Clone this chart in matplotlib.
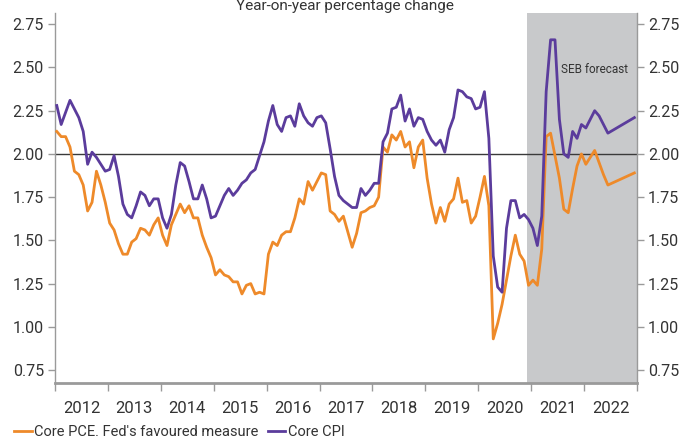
import matplotlib
matplotlib.use("Agg")
import matplotlib.pyplot as plt

plt.rcParams["font.family"] = ["Roboto", "DejaVu Sans"]

# ---- data (monthly, Jan 2012 -> Jun 2022, then Dec 2022 end point) ----
years = [2012, 2013, 2014, 2015, 2016, 2017, 2018, 2019, 2020, 2021, 2022]

core_pce = [
    2.13, 2.10, 2.10, 2.04, 1.90, 1.88, 1.82, 1.67, 1.72, 1.90, 1.82, 1.72,  # 2012
    1.60, 1.56, 1.48, 1.42, 1.42, 1.49, 1.51, 1.57, 1.56, 1.53, 1.59, 1.63,  # 2013
    1.53, 1.47, 1.59, 1.65, 1.71, 1.66, 1.70, 1.63, 1.63, 1.53, 1.46, 1.40,  # 2014
    1.30, 1.33, 1.30, 1.29, 1.26, 1.26, 1.19, 1.24, 1.25, 1.19, 1.20, 1.19,  # 2015
    1.42, 1.49, 1.47, 1.53, 1.55, 1.55, 1.63, 1.74, 1.71, 1.84, 1.79, 1.84,  # 2016
    1.89, 1.88, 1.67, 1.65, 1.61, 1.64, 1.55, 1.46, 1.54, 1.66, 1.67, 1.69,  # 2017
    1.70, 1.75, 2.04, 2.01, 2.11, 2.08, 2.13, 2.04, 2.07, 1.92, 2.04, 2.08,  # 2018
    1.86, 1.71, 1.60, 1.69, 1.61, 1.71, 1.74, 1.86, 1.72, 1.73, 1.60, 1.64,  # 2019
    1.75, 1.87, 1.70, 0.93, 1.02, 1.13, 1.27, 1.41, 1.53, 1.42, 1.38, 1.24,  # 2020
    1.27, 1.24, 1.45, 2.10, 2.12, 1.99, 1.86, 1.68, 1.66, 1.80, 1.93, 2.00,  # 2021
    1.94, 1.98, 2.02, 1.95, 1.88, 1.82,                                      # 2022 H1
]
core_cpi = [
    2.28, 2.17, 2.24, 2.31, 2.26, 2.21, 2.13, 1.94, 2.01, 1.98, 1.94, 1.90,  # 2012
    1.91, 1.99, 1.87, 1.71, 1.65, 1.63, 1.70, 1.78, 1.76, 1.70, 1.74, 1.74,  # 2013
    1.63, 1.57, 1.65, 1.82, 1.95, 1.93, 1.84, 1.74, 1.74, 1.82, 1.74, 1.63,  # 2014
    1.64, 1.70, 1.76, 1.80, 1.76, 1.79, 1.83, 1.85, 1.89, 1.91, 1.99, 2.07,  # 2015
    2.19, 2.28, 2.17, 2.13, 2.21, 2.22, 2.16, 2.29, 2.22, 2.18, 2.16, 2.21,  # 2016
    2.22, 2.18, 2.03, 1.87, 1.76, 1.73, 1.71, 1.69, 1.69, 1.80, 1.76, 1.79,  # 2017
    1.83, 1.83, 2.07, 2.12, 2.26, 2.27, 2.34, 2.19, 2.26, 2.16, 2.21, 2.20,  # 2018
    2.13, 2.08, 2.05, 2.08, 2.01, 2.14, 2.21, 2.37, 2.36, 2.33, 2.32, 2.26,  # 2019
    2.27, 2.36, 2.09, 1.41, 1.23, 1.20, 1.57, 1.73, 1.73, 1.63, 1.65, 1.62,  # 2020
    1.57, 1.47, 1.64, 2.36, 2.66, 2.66, 2.20, 2.00, 1.98, 2.13, 2.09, 2.17,  # 2021
    2.15, 2.20, 2.25, 2.22, 2.17, 2.12,                                      # 2022 H1
]
pce_dec22 = 1.89
cpi_dec22 = 2.21
forecast_from = 2020.92

ORANGE = "#EE8A2A"
PURPLE = "#5B3C9C"
GREY_BG = "#C8C9CB"
TXT = "#333333"
SPINE = "#9A9A9A"


def month_x(i):
    # decimal year for month index i (0 = Jan 2012)
    return years[0] + (i + 0.4) / 12


n = len(core_pce)
xs = [month_x(i) for i in range(n)] + [month_x(131)]
pce = core_pce + [pce_dec22]
cpi = core_cpi + [cpi_dec22]

fig = plt.figure(figsize=(6.84, 4.40), dpi=100)
ax = fig.add_axes([55 / 684, 57 / 440, 582 / 684, 370 / 440])

ax.axvspan(forecast_from, years[-1] + 1, color=GREY_BG, lw=0, zorder=0)
ax.axhline(2.0, color="#3A3A3A", lw=1.0, zorder=1)

ax.plot(xs, pce, color=ORANGE, lw=2.0, solid_joinstyle="round", zorder=3,
        label="Core PCE. Fed's favoured measure")
ax.plot(xs, cpi, color=PURPLE, lw=2.0, solid_joinstyle="round", zorder=3,
        label="Core CPI")

ax.set_xlim(years[0], years[-1] + 1)
ax.set_ylim(0.675, 2.815)

yt = [0.75, 1.00, 1.25, 1.50, 1.75, 2.00, 2.25, 2.50, 2.75]
ax.set_yticks(yt)
ax.set_yticklabels([f"{v:.2f}" for v in yt])
ax.tick_params(axis="y", left=True, right=True, labelleft=True, labelright=True,
               length=5, width=1, color=SPINE, labelsize=11.5, labelcolor=TXT, pad=3)

ax.set_xticks([y for y in years] + [years[-1] + 1])
ax.set_xticklabels([])
ax.set_xticks([y + 0.5 for y in years], minor=True)
ax.set_xticklabels([str(y) for y in years], minor=True)
ax.tick_params(axis="x", which="major", length=6, width=1, color=SPINE)
ax.tick_params(axis="x", which="minor", length=0, labelsize=12, labelcolor=TXT, pad=13)

for side in ["left", "right"]:
    ax.spines[side].set_color(SPINE)
    ax.spines[side].set_linewidth(1.0)
ax.spines["bottom"].set_color(SPINE)
ax.spines["bottom"].set_linewidth(2.0)
ax.spines["top"].set_visible(False)

ax.text(2022.19, 2.49, "SEB forecast", fontsize=8.5, color=TXT, ha="center",
        va="center", zorder=4)

fig.text(0.505, 1 - 10 / 440, "Year-on-year percentage change", ha="center",
         va="baseline", fontsize=11, color=TXT)

leg = fig.legend(loc="lower left", bbox_to_anchor=(0.012, -0.012), ncol=2, frameon=False,
                 fontsize=10.5, handlelength=1.2, handletextpad=0.2, columnspacing=0.6,
                 borderaxespad=0)
for t in leg.get_texts():
    t.set_color(TXT)

fig.savefig("out.png", dpi=100)
